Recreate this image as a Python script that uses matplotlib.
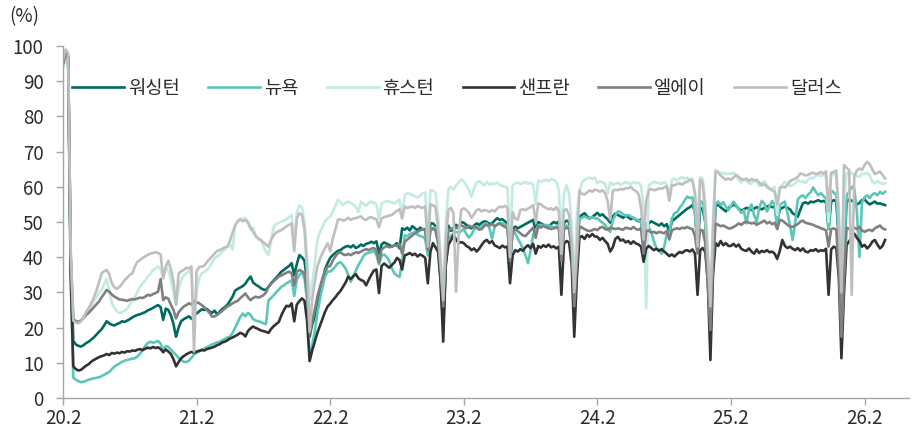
import numpy as np
import matplotlib
matplotlib.use("Agg")
import matplotlib.pyplot as plt

plt.rcParams['font.family'] = ['Noto Sans CJK KR', 'DejaVu Sans']

# Weekly office occupancy (%), first week = 20.2
tick_labels = ['20.2', '21.2', '22.2', '23.2', '24.2', '25.2', '26.2']
weeks_per_tick = 52
y_ticks = [0, 10, 20, 30, 40, 50, 60, 70, 80, 90, 100]

names = ['워싱턴', '뉴욕', '휴스턴', '샌프란', '엘에이', '달러스']
colors = ['#006B5E', '#5CC6B8', '#C3EAE4', '#333333', '#808080', '#BFBFBF']

washington = [
    95, 98, 97, 40,
    16.2, 15.2, 14.8, 14.6, 15.0, 15.6, 16.0, 16.6,
    17.2, 18.0, 18.8, 19.5, 20.6, 21.8, 21.2, 20.8,
    20.6, 21.0, 21.3, 21.8, 21.6, 22.0, 22.4, 22.9,
    23.3, 23.6, 23.8, 24.1, 24.4, 24.9, 25.2, 25.6,
    26.0, 26.4, 25.8, 22.2, 25.4, 25.0, 23.5, 21.0,
    17.4, 20.0, 21.8, 22.4, 22.8, 23.2, 22.5, 23.4,
    # 21.2
    24.0, 24.6, 25.2, 25.0, 25.3, 24.6, 24.2, 24.8,
    23.8, 24.5, 25.3, 25.8, 26.5, 27.6, 28.8, 30.5,
    31.0, 31.4, 31.8, 32.5, 33.6, 34.5, 32.8, 32.2,
    31.8, 31.2, 30.8, 30.7, 31.6, 32.6, 33.4, 34.2,
    35.0, 35.9, 36.4, 37.0, 37.5, 38.3, 34.9, 38.0,
    40.6, 40.0, 39.0, 33.0, 17.4, 21.0, 23.0, 27.0,
    30.0, 33.5, 36.5, 38.3,
    # 22.2
    39.8, 40.6, 41.2, 41.8, 42.0, 42.6, 43.0, 43.2,
    42.8, 43.4, 42.6, 43.0, 43.6, 43.2, 43.8, 44.0,
    44.4, 44.0, 44.5, 41.0, 43.6, 44.2, 43.8, 43.5,
    43.0, 43.4, 44.0, 42.5, 48.2, 47.8, 48.4, 47.6,
    48.8, 48.2, 47.6, 48.4, 47.8, 48.0, 42.0, 49.6,
    49.6, 48.8, 45.0, 33.0, 20.3, 38.0, 49.0, 47.5,
    47.8, 49.2, 48.4, 50.0,
    # 23.2
    49.8, 49.2, 48.5, 48.2, 49.0, 49.6, 49.2, 49.8,
    50.2, 50.0, 49.4, 49.6, 50.4, 51.1, 50.6, 50.8,
    50.2, 49.6, 38.5, 47.8, 48.7, 48.2, 48.6, 49.0,
    49.4, 49.8, 50.2, 50.6, 47.5, 50.0, 49.6, 49.2,
    49.0, 48.6, 49.4, 50.0, 49.6, 50.2, 39.0, 49.8,
    50.4, 50.0, 44.0, 24.0, 40.0, 51.5, 52.0, 52.5,
    51.6, 51.0, 51.4, 52.0,
    # 24.2
    52.6, 51.8, 52.2, 51.4, 50.8, 49.8, 51.6, 52.4,
    52.0, 51.6, 51.2, 51.8, 51.4, 50.8, 51.2, 50.6,
    50.2, 50.8, 44.0, 48.5, 49.6, 50.2, 49.8, 49.4,
    49.0, 49.6, 48.8, 49.4, 47.0, 50.2, 50.8, 51.4,
    52.0, 52.6, 53.2, 53.8, 54.2, 54.8, 53.0, 42.0,
    54.0, 53.6, 50.0, 38.0, 22.0, 40.0, 54.4, 55.0,
    54.2, 53.6, 53.0, 54.0,
    # 25.2
    54.4, 55.0, 54.6, 53.8, 53.2, 53.6, 54.0, 53.9,
    53.4, 53.8, 54.2, 53.9, 53.6, 54.0, 54.4, 54.6,
    54.2, 54.4, 50.0, 53.6, 54.0, 54.4, 54.0, 53.6,
    52.5, 52.0, 51.5, 53.5, 55.3, 55.6, 55.2, 55.8,
    55.6, 55.9, 56.2, 55.8, 56.0, 55.6, 48.0, 55.8,
    56.2, 55.8, 45.0, 22.0, 40.0, 55.5, 56.5, 56.0,
    55.8, 55.0, 55.4, 56.2,
    # 26.2
    56.4, 55.6, 55.0, 55.4, 55.8, 55.2, 55.3, 55.0, 54.8,
]

new_york = [
    94, 97, 96, 35,
    5.8, 5.2, 4.8, 4.5, 4.6, 4.9, 5.2, 5.4,
    5.6, 5.7, 5.9, 6.2, 6.6, 7.0, 7.4, 8.2,
    8.9, 9.4, 9.8, 10.3, 10.6, 10.8, 11.0, 11.2,
    11.3, 11.8, 12.6, 13.6, 14.8, 15.6, 16.0, 15.7,
    15.9, 16.2, 15.4, 13.6, 14.8, 14.5, 13.8, 13.0,
    12.2, 11.4, 10.8, 10.3, 10.2, 10.6, 11.4, 12.4,
    # 21.2
    12.8, 13.2, 13.8, 14.0, 14.4, 14.8, 15.2, 15.5,
    15.8, 16.0, 16.4, 16.8, 17.2, 17.4, 18.5, 20.0,
    21.5, 23.0, 24.0, 23.2, 24.2, 23.6, 22.4, 22.0,
    21.8, 21.6, 21.2, 21.0, 27.8, 28.4, 29.2, 30.0,
    30.8, 31.6, 32.0, 32.6, 33.0, 33.4, 29.0, 33.6,
    35.0, 35.6, 34.0, 28.0, 10.8, 15.0, 19.0, 24.0,
    28.0, 31.5, 34.5, 36.0,
    # 22.2
    35.9, 36.5, 37.4, 38.3, 38.6, 37.8, 36.8, 35.0,
    33.0, 34.6, 36.2, 37.8, 39.0, 40.4, 41.1, 41.2,
    41.5, 41.8, 40.6, 38.0, 40.4, 40.8, 40.0, 39.0,
    36.8, 35.4, 34.8, 34.4, 38.5, 46.2, 46.0, 46.6,
    46.8, 47.2, 46.4, 46.0, 45.8, 45.2, 40.5, 47.4,
    48.0, 48.4, 44.0, 34.0, 22.0, 38.0, 45.3, 46.0,
    46.8, 47.2, 47.0, 47.4,
    # 23.2
    48.0, 46.6, 45.6, 46.4, 47.8, 48.6, 48.4, 48.8,
    49.4, 49.6, 48.2, 45.3, 48.6, 49.4, 49.8, 49.6,
    49.2, 48.8, 38.0, 47.6, 46.8, 45.3, 44.0, 42.5,
    40.6, 38.3, 41.8, 46.5, 47.5, 49.0, 49.2, 49.0,
    49.2, 49.0, 48.8, 48.4, 48.6, 49.0, 39.0, 48.2,
    49.0, 48.6, 43.0, 24.0, 40.0, 50.6, 51.2, 51.6,
    51.2, 51.0, 51.4, 51.0,
    # 24.2
    51.0, 50.4, 49.8, 49.2, 48.0, 47.2, 50.4, 52.0,
    53.0, 52.8, 52.2, 51.8, 52.0, 51.6, 51.2, 50.8,
    50.4, 50.0, 42.5, 49.6, 48.5, 47.0, 44.5, 42.5,
    42.0, 41.0, 43.0, 46.5, 47.0, 51.0, 52.5, 52.8,
    54.0, 54.9, 56.2, 57.2, 56.8, 57.0, 52.0, 44.0,
    56.0, 55.6, 50.0, 36.0, 21.0, 40.0, 55.0, 55.8,
    54.8, 55.6, 54.4, 53.4,
    # 25.2
    54.6, 55.8, 54.8, 53.6, 52.6, 53.4, 49.6, 53.4,
    55.0, 52.0, 50.0, 54.0, 56.0, 55.2, 53.0, 54.4,
    56.0, 55.0, 48.0, 54.8, 55.4, 55.8, 52.5, 49.0,
    44.9, 50.0, 56.4, 57.2, 57.6, 56.8, 57.8, 58.4,
    59.8, 58.6, 57.6, 58.2, 57.4, 56.6, 48.0, 59.0,
    58.4, 57.6, 46.0, 20.0, 40.0, 57.6, 58.6, 60.0,
    59.4, 53.0, 40.1, 55.6,
    # 26.2
    57.0, 57.6, 56.8, 57.8, 58.2, 57.6, 58.6, 58.0, 58.6,
]

houston = [
    94, 97, 96, 40,
    22.5, 21.8, 21.5, 22.0, 23.0, 24.2, 25.0, 26.2,
    27.4, 28.6, 29.8, 30.7, 32.4, 33.8, 30.5, 27.0,
    25.6, 24.6, 24.1, 24.4, 24.9, 25.4, 26.5, 27.6,
    28.8, 30.2, 31.6, 32.6, 33.4, 34.5, 35.2, 36.4,
    36.8, 37.3, 36.6, 34.0, 37.0, 36.2, 33.5, 30.0,
    26.5, 31.0, 33.5, 34.8, 35.4, 36.0, 35.2, 24.0,
    # 21.2
    30.0, 34.0, 35.4, 35.8, 36.4, 37.2, 38.4, 39.7,
    40.2, 40.8, 41.6, 42.2, 43.0, 43.6, 42.2, 49.0,
    50.2, 50.6, 51.0, 51.1, 49.6, 47.8, 48.4, 46.0,
    45.0, 44.9, 43.2, 41.5, 40.6, 44.8, 48.6, 49.4,
    49.8, 50.1, 50.4, 50.8, 51.4, 52.0, 42.0, 52.8,
    54.8, 54.2, 50.0, 40.0, 28.0, 33.0, 38.0, 44.9,
    47.0, 48.6, 50.2, 51.0,
    # 22.2
    51.5, 53.0, 54.4, 56.3, 55.6, 54.8, 55.4, 55.8,
    55.4, 55.0, 54.2, 52.8, 55.8, 55.2, 54.6, 55.4,
    55.8, 55.4, 55.0, 51.0, 55.2, 55.6, 56.0, 55.8,
    55.6, 55.2, 55.8, 56.4, 52.0, 57.7, 58.2, 58.0,
    57.7, 57.2, 57.0, 57.4, 58.2, 58.4, 44.0, 59.0,
    59.0, 58.2, 52.0, 40.0, 27.8, 50.0, 59.4, 60.0,
    59.2, 60.4, 61.2, 62.0,
    # 23.2
    61.6, 60.4, 59.0, 57.2, 59.6, 61.2, 61.6, 61.0,
    60.4, 61.4, 60.6, 61.0, 60.8, 61.2, 60.6, 60.2,
    60.0, 59.8, 44.0, 60.4, 61.0, 61.2, 60.8, 61.0,
    61.4, 60.8, 61.2, 60.6, 55.0, 61.8, 61.4, 61.8,
    62.0, 61.6, 62.2, 62.0, 61.4, 59.0, 46.0, 58.0,
    60.4, 58.0, 50.0, 32.0, 52.0, 58.6, 61.2, 62.0,
    62.4, 62.6, 62.2, 62.6,
    # 24.2
    61.0, 61.6, 61.2, 61.0, 58.0, 61.2, 60.6, 60.8,
    61.2, 60.6, 61.0, 61.4, 61.0, 60.8, 61.4, 61.0,
    61.2, 60.2, 54.0, 25.5, 60.4, 61.0, 61.4, 61.2,
    61.0, 60.8, 61.4, 60.6, 57.0, 62.0, 62.4, 61.8,
    62.4, 62.8, 62.2, 62.6, 62.0, 62.4, 58.0, 50.0,
    62.8, 62.2, 56.0, 42.0, 28.0, 50.0, 64.8, 64.4,
    63.8, 64.0, 63.6, 63.8,
    # 25.2
    63.6, 64.0, 63.2, 62.0, 61.2, 62.2, 61.8, 61.0,
    60.8, 62.0, 61.4, 60.2, 61.0, 61.6, 60.4, 59.6,
    59.4, 60.0, 52.0, 59.8, 60.6, 61.4, 61.0, 60.2,
    60.4, 61.0, 62.0, 61.4, 61.6, 61.0, 62.0, 62.6,
    62.4, 63.0, 63.4, 63.0, 63.6, 62.8, 50.0, 64.0,
    63.6, 62.8, 54.0, 30.0, 56.0, 63.8, 64.4, 63.8,
    63.6, 63.0, 62.8, 63.8,
    # 26.2
    63.6, 64.0, 63.2, 61.4, 61.0, 61.6, 61.2, 60.8, 61.0,
]

san_francisco = [
    95, 98, 97, 35,
    9.0, 8.2, 7.8, 8.0, 8.6, 9.2, 9.6, 10.3,
    10.8, 11.2, 11.6, 11.9, 12.1, 12.5, 12.2, 12.8,
    12.6, 12.9, 12.7, 13.1, 12.9, 13.3, 13.2, 13.5,
    13.4, 13.7, 13.9, 13.6, 14.0, 14.3, 14.1, 14.5,
    14.2, 14.4, 13.9, 13.0, 13.8, 13.2, 12.5, 11.0,
    9.0, 10.2, 11.3, 11.9, 12.4, 12.8, 13.1, 12.9,
    # 21.2
    13.2, 13.4, 13.6, 13.5, 13.9, 14.1, 14.3, 14.6,
    15.0, 15.3, 15.8, 16.0, 16.4, 16.9, 17.2, 17.6,
    18.0, 18.5, 18.2, 17.5, 19.0, 19.8, 20.3, 19.9,
    19.6, 19.2, 19.0, 18.8, 18.5, 19.6, 20.4, 21.0,
    21.6, 23.5, 25.0, 26.2, 26.0, 26.9, 21.8, 26.5,
    27.5, 28.3, 27.6, 22.0, 10.5, 13.5, 16.0, 18.5,
    20.5, 22.5, 24.5, 26.0,
    # 22.2
    26.8, 27.8, 28.6, 29.6, 30.4, 31.6, 32.8, 34.5,
    33.8, 34.6, 35.2, 34.0, 33.5, 33.2, 32.0, 33.6,
    35.0, 36.2, 36.5, 29.8, 37.5, 38.2, 37.6, 37.0,
    37.8, 38.5, 39.8, 39.2, 36.5, 40.5, 40.8, 41.2,
    40.6, 41.0, 40.2, 40.8, 40.4, 39.8, 32.6, 41.5,
    44.0, 42.8, 41.5, 33.0, 16.0, 38.0, 43.5, 44.8,
    46.3, 45.0, 44.0, 44.3,
    # 23.2
    44.0, 43.2, 42.8, 42.0, 42.5, 41.6, 42.4, 43.5,
    44.5, 44.9, 44.0, 44.6, 43.4, 43.0, 42.6, 43.3,
    42.8, 43.0, 32.6, 40.5, 42.0, 41.6, 42.3, 41.8,
    42.8, 43.4, 42.6, 43.8, 41.0, 43.2, 42.7, 43.4,
    42.9, 43.6, 42.8, 43.1, 42.5, 43.0, 29.3, 43.8,
    44.6, 44.2, 38.0, 17.4, 34.0, 45.5, 46.0, 45.2,
    46.4, 45.8, 46.6, 45.9,
    # 24.2
    45.8, 44.9, 45.5, 44.6, 43.8, 41.6, 42.8, 45.2,
    45.8, 44.7, 45.0, 44.2, 44.6, 43.8, 44.5, 43.9,
    43.6, 43.0, 38.7, 42.5, 43.2, 42.6, 42.0, 42.4,
    41.8, 42.3, 41.6, 41.0, 40.3, 40.8, 40.2, 40.9,
    41.5, 41.2, 41.8, 42.0, 41.6, 42.2, 41.0, 29.3,
    42.0, 42.6, 41.5, 33.0, 10.8, 35.0, 44.0, 43.2,
    44.6, 43.4, 44.0, 43.2,
    # 25.2
    43.2, 43.8, 43.0, 43.6, 42.4, 42.0, 41.8, 42.5,
    41.6, 41.0, 42.2, 41.2, 41.8, 41.5, 42.0, 41.4,
    41.6, 41.0, 39.5, 41.8, 44.9, 43.2, 42.6, 43.0,
    42.4, 42.0, 42.6, 41.8, 42.5, 41.6, 41.4, 42.0,
    41.8, 42.3, 41.6, 42.0, 41.8, 42.4, 29.3, 42.2,
    43.0, 42.6, 34.0, 11.3, 30.0, 43.5, 44.5, 45.6,
    46.7, 45.5, 44.6, 43.0,
    # 26.2
    43.5, 42.5, 43.2, 44.4, 44.9, 43.6, 42.5, 43.2, 44.9,
]

los_angeles = [
    95, 98, 97, 40,
    22.5, 21.8, 21.6, 22.0, 22.8, 23.6, 24.2, 25.0,
    25.8, 26.6, 27.4, 28.6, 29.6, 30.7, 30.2, 29.4,
    28.8, 28.4, 28.0, 27.9, 27.8, 27.6, 27.9, 28.1,
    28.0, 28.3, 28.5, 28.4, 28.8, 29.3, 29.1, 29.5,
    29.8, 30.2, 33.8, 27.8, 28.6, 28.2, 26.5, 25.0,
    22.6, 24.4, 25.2, 26.0, 26.4, 26.9, 26.6, 27.4,
    # 21.2
    27.2, 26.9, 26.4, 25.8, 25.0, 24.2, 23.1, 23.2,
    23.6, 24.2, 24.8, 25.4, 26.0, 26.4, 26.9, 27.3,
    27.6, 28.4, 29.0, 29.7, 28.6, 27.8, 28.4, 28.8,
    28.5, 28.8, 29.2, 30.0, 31.5, 32.4, 33.2, 33.8,
    34.5, 34.8, 35.2, 35.6, 35.9, 35.4, 32.0, 35.8,
    36.4, 36.0, 35.4, 30.0, 18.4, 22.0, 25.0, 28.8,
    31.5, 34.0, 36.0, 37.3,
    # 22.2
    37.5, 39.0, 40.2, 41.1, 41.4, 40.8, 40.6, 40.9,
    40.6, 41.0, 41.4, 41.2, 41.6, 42.0, 42.3, 42.0,
    42.4, 42.6, 42.0, 38.5, 42.2, 42.8, 43.2, 42.8,
    43.0, 43.4, 43.2, 43.8, 41.0, 44.4, 45.0, 45.6,
    46.2, 46.8, 47.2, 47.6, 48.0, 47.6, 42.0, 48.0,
    48.2, 47.6, 44.0, 36.0, 26.0, 40.0, 47.8, 48.0,
    48.4, 48.2, 48.7, 49.0,
    # 23.2
    48.7, 48.2, 49.0, 48.6, 48.8, 48.4, 47.8, 48.0,
    48.9, 49.2, 49.0, 49.4, 48.8, 49.2, 49.6, 49.0,
    48.6, 48.2, 39.0, 47.2, 48.0, 47.4, 46.8, 46.2,
    46.0, 46.8, 47.6, 48.4, 45.5, 48.8, 48.4, 48.9,
    48.5, 48.2, 48.0, 48.2, 48.4, 48.2, 39.0, 48.0,
    48.4, 48.0, 42.0, 26.0, 38.0, 48.7, 48.4, 48.0,
    47.6, 47.4, 47.7, 48.0,
    # 24.2
    47.7, 48.4, 48.6, 48.0, 47.8, 48.4, 48.2, 48.0,
    48.2, 48.0, 47.8, 48.4, 48.2, 48.0, 48.6, 48.0,
    47.8, 48.2, 41.0, 47.4, 47.6, 47.0, 47.2, 46.8,
    47.2, 47.0, 46.8, 47.4, 45.0, 47.6, 48.0, 48.2,
    48.0, 48.4, 48.2, 48.6, 48.2, 48.0, 46.0, 41.0,
    47.8, 47.6, 44.0, 32.0, 19.3, 38.0, 49.6, 49.2,
    48.8, 49.0, 48.6, 48.2,
    # 25.2
    48.2, 48.6, 49.0, 49.6, 49.2, 49.8, 50.1, 49.8,
    49.6, 49.8, 49.2, 49.6, 50.0, 50.4, 49.6, 50.0,
    49.4, 49.8, 48.0, 50.6, 50.4, 49.8, 49.2, 48.7,
    48.6, 49.0, 49.4, 50.1, 50.4, 49.8, 49.6, 49.4,
    49.2, 48.8, 48.6, 48.2, 48.0, 47.6, 43.0, 48.0,
    48.2, 47.8, 36.0, 17.4, 34.0, 48.4, 48.0, 47.6,
    48.4, 48.0, 48.6, 47.6,
    # 26.2
    47.2, 47.6, 47.8, 47.4, 48.2, 48.6, 49.0, 48.2, 47.9,
]

dallas = [
    96, 99, 98, 42,
    22.0, 21.4, 21.2, 21.8, 23.0, 24.4, 25.6, 26.9,
    28.6, 30.5, 32.8, 35.4, 36.0, 36.4, 35.2, 32.6,
    31.4, 31.0, 31.6, 32.4, 33.5, 34.2, 35.0, 35.4,
    37.4, 38.7, 39.2, 39.8, 40.2, 40.7, 41.0, 41.2,
    41.4, 41.2, 40.8, 34.0, 37.3, 39.0, 36.5, 33.0,
    26.4, 35.4, 36.0, 36.4, 37.0, 36.8, 37.4, 13.2,
    # 21.2
    36.0, 37.2, 37.3, 37.6, 38.6, 39.4, 40.2, 41.0,
    41.8, 42.0, 42.4, 42.8, 43.0, 44.6, 47.0, 49.0,
    50.2, 50.8, 50.2, 50.6, 50.0, 48.4, 47.2, 46.0,
    45.4, 44.9, 44.2, 43.6, 43.0, 45.0, 46.2, 47.0,
    47.4, 47.7, 48.2, 48.8, 49.2, 49.6, 41.7, 51.0,
    52.5, 52.0, 48.0, 36.0, 18.9, 28.0, 33.0, 37.3,
    39.5, 41.2, 42.6, 44.0,
    # 22.2
    41.7, 45.2, 47.8, 50.6, 50.8, 50.4, 50.6, 51.2,
    50.6, 51.0, 51.1, 51.4, 51.6, 50.8, 50.6, 51.2,
    51.4, 51.0, 50.8, 48.5, 51.0, 51.4, 51.6, 51.8,
    52.0, 52.6, 53.2, 53.6, 51.0, 54.4, 54.0, 54.2,
    54.4, 54.0, 54.6, 54.2, 54.0, 54.4, 43.0, 55.0,
    54.8, 54.2, 48.0, 38.0, 27.8, 45.0, 53.4, 54.0,
    52.5, 30.2, 46.0, 53.4,
    # 23.2
    53.9, 53.4, 52.6, 51.1, 52.2, 53.4, 53.6, 53.0,
    53.4, 53.2, 52.9, 53.4, 53.0, 53.8, 54.4, 54.2,
    54.6, 54.0, 40.0, 52.8, 51.0, 50.6, 53.4, 53.6,
    53.4, 53.8, 54.2, 54.8, 50.0, 55.3, 55.0, 54.4,
    54.0, 53.6, 53.9, 53.4, 54.2, 53.0, 41.0, 53.4,
    53.6, 52.0, 45.0, 30.0, 42.0, 59.0, 58.0, 57.8,
    58.4, 59.0, 58.6, 59.2,
    # 24.2
    59.0, 58.6, 59.0, 58.2, 56.0, 50.6, 58.8, 59.2,
    59.0, 59.4, 59.2, 59.6, 59.6, 60.0, 59.2, 58.8,
    58.0, 54.0, 45.0, 56.0, 59.0, 59.4, 59.0, 59.2,
    59.6, 59.4, 59.8, 60.2, 56.0, 60.5, 60.4, 60.8,
    61.0, 60.6, 61.2, 61.4, 62.0, 61.6, 58.0, 43.0,
    62.0, 61.0, 52.0, 40.0, 26.0, 48.0, 64.3, 64.0,
    63.2, 62.6, 62.0, 62.4,
    # 25.2
    62.0, 62.6, 63.4, 62.8, 62.2, 62.0, 62.4, 61.6,
    62.2, 61.8, 62.0, 61.2, 60.4, 60.8, 60.0, 59.4,
    59.0, 58.6, 55.0, 59.6, 60.0, 59.8, 60.6, 61.6,
    62.0, 62.4, 62.8, 63.8, 63.6, 63.2, 63.4, 63.8,
    64.0, 63.6, 63.8, 64.2, 63.8, 64.4, 53.0, 64.0,
    64.2, 64.6, 50.0, 30.0, 66.2, 65.4, 64.8, 29.3,
    63.0, 64.6, 65.2, 64.8,
    # 26.2
    66.2, 67.1, 66.4, 65.0, 63.6, 64.0, 64.3, 63.4, 62.4,
]

series = [washington, new_york, houston, san_francisco, los_angeles, dallas]

fig = plt.figure(figsize=(9.15, 4.30), dpi=100)
ax = fig.add_axes([63 / 915, 32 / 430, 846 / 915, 352 / 430])

for name, color, values in zip(names, colors, series):
    weeks = np.arange(len(values))
    ax.plot(weeks, values, color=color, lw=1.9, label=name,
            solid_joinstyle='round')

ax.set_xlim(0, 329.3)
ax.set_ylim(0, 100)
ax.set_yticks(y_ticks)
ax.set_xticks(np.arange(len(tick_labels)) * weeks_per_tick)
ax.set_xticklabels(tick_labels)

axis_grey = '#A6A6A6'
for side in ('top', 'right'):
    ax.spines[side].set_visible(False)
for side in ('left', 'bottom'):
    ax.spines[side].set_color(axis_grey)
    ax.spines[side].set_linewidth(1.0)
ax.tick_params(axis='both', direction='out', length=5, width=1.0,
               color=axis_grey, labelcolor='#2b2b2b', labelsize=13.5)
ax.tick_params(axis='y', pad=9)
ax.tick_params(axis='x', pad=2)

ax.legend(loc='center left', bbox_to_anchor=(0.0106, 0.88), ncol=6,
          frameon=False, handlelength=2.77, handletextpad=0.2,
          columnspacing=1.52, borderaxespad=0, borderpad=0,
          fontsize=13.5, labelcolor='#2b2b2b')

fig.text(9 / 915, 1 - 17 / 430, '(%)', ha='left', va='center',
         fontsize=13.5, color='#2b2b2b')

fig.savefig('out.png', dpi=100)
